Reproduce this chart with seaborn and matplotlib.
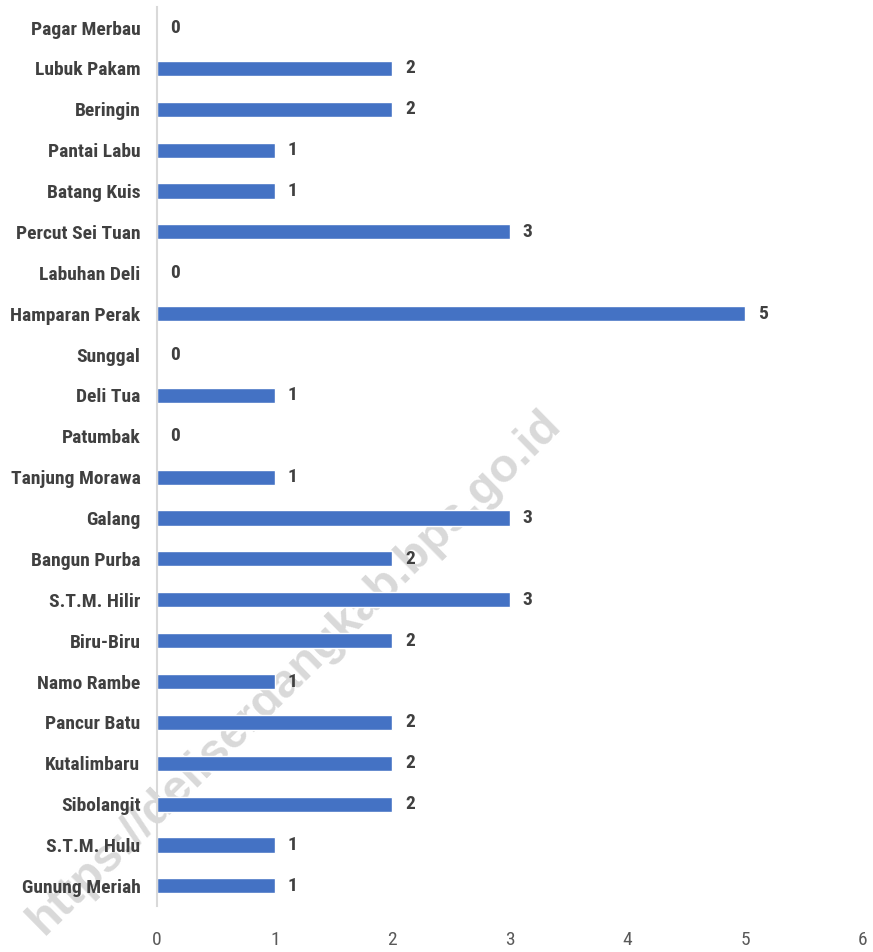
import pandas as pd
import numpy as np
import matplotlib
matplotlib.use("Agg")
import matplotlib.pyplot as plt
import seaborn as sns

# data kecamatan (atas ke bawah)
kecamatan = ["Pagar Merbau", "Lubuk Pakam", "Beringin", "Pantai Labu", "Batang Kuis",
             "Percut Sei Tuan", "Labuhan Deli", "Hamparan Perak", "Sunggal", "Deli Tua",
             "Patumbak", "Tanjung Morawa", "Galang", "Bangun Purba", "S.T.M. Hilir",
             "Biru-Biru", "Namo Rambe", "Pancur Batu", "Kutalimbaru", "Sibolangit",
             "S.T.M. Hulu", "Gunung Meriah"]
jumlah = [0, 2, 2, 1, 1, 3, 0, 5, 0, 1, 0, 1, 3, 2, 3, 2, 1, 2, 2, 2, 1, 1]
x_ticks = [0, 1, 2, 3, 4, 5, 6]

df = pd.DataFrame({"Kecamatan": kecamatan, "Jumlah": jumlah})

sns.set_style("white")
plt.rcParams['font.family'] = ['Roboto Condensed', 'Roboto', 'DejaVu Sans']

fig = plt.figure(figsize=(8.73, 9.52), dpi=100)
ax = fig.add_axes([0.18, 0.048, 0.8085, 0.9445])

sns.barplot(data=df, x="Jumlah", y="Kecamatan", orient="h", color="#4472C4",
            width=0.37, ax=ax, zorder=2, saturation=1)

ax.bar_label(ax.containers[0], labels=[str(v) for v in jumlah], padding=9,
             fontsize=14, fontweight="bold", color="#404040", zorder=4)

ax.set_xlim(0, 6)
ax.set_xticks(x_ticks)
ax.set_xlabel("")
ax.set_ylabel("")
ax.set_axisbelow(False)
for s in ["top", "right", "bottom"]:
    ax.spines[s].set_visible(False)
ax.spines["left"].set_color("#d9d9d9")
ax.spines["left"].set_linewidth(1.5)
ax.tick_params(axis="x", length=0, pad=18, labelsize=14, labelcolor="#595959")
ax.tick_params(axis="y", length=0, pad=12, labelsize=14, labelcolor="#404040")
for lbl in ax.get_yticklabels():
    lbl.set_fontweight("bold")

# watermark (di belakang)
ax.text(0.338, 0.294, "https://deliserdangkab.bps.go.id", transform=fig.transFigure,
        rotation=44.5, fontsize=34, fontweight="bold", color="#d9d9d9",
        family="Liberation Sans", ha="center", va="center", zorder=0, clip_on=False)

plt.savefig("out.png", dpi=100)
